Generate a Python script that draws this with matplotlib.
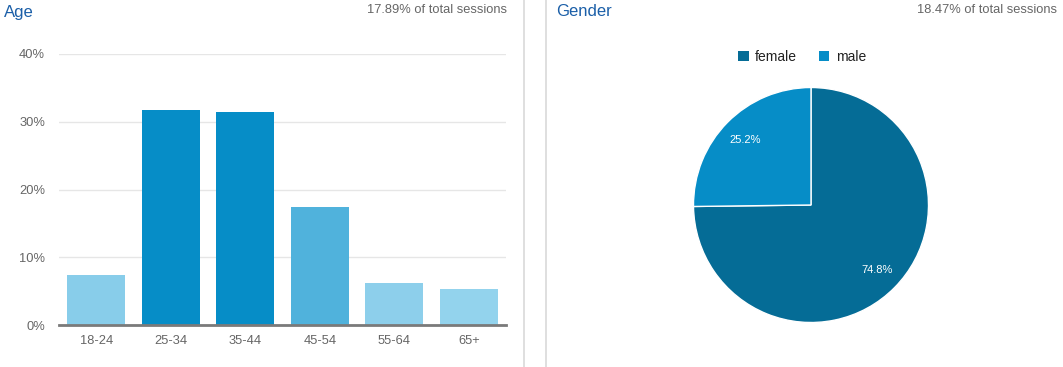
import matplotlib
matplotlib.use('Agg')
import matplotlib.pyplot as plt
from matplotlib.lines import Line2D
from matplotlib.patches import Patch

plt.rcParams['font.family'] = ['Liberation Sans', 'DejaVu Sans']

# age data
age_groups = ['18-24', '25-34', '35-44', '45-54', '55-64', '65+']
age_pct = [7.4, 31.7, 31.4, 17.4, 6.2, 5.3]
age_colors = ['#88cdea', '#068dc7', '#068dc7', '#50b2dc', '#8dcfeb', '#93d3ed']
yticks = [0, 10, 20, 30, 40]

# gender data
genders = ['female', 'male']
gender_pct = [74.8, 25.2]
gender_colors = ['#056c96', '#068dc7']

W, H = 1063, 367
fig = plt.figure(figsize=(W / 100, H / 100), dpi=100)
fig.patch.set_facecolor('white')

title_col = '#1b5fa8'
grey = '#666666'

# --- age bar chart
ax = fig.add_axes([59 / W, 1 - 325 / H, 447 / W, 271 / H])
x = list(range(len(age_groups)))
ax.bar(x, age_pct, width=0.78, color=age_colors, zorder=3)
ax.set_xlim(-0.5, len(age_groups) - 0.5)
ax.set_ylim(0, 40)
ax.set_yticks(yticks)
ax.set_yticklabels([f'{t}%' for t in yticks])
ax.set_xticks(x)
ax.set_xticklabels(age_groups)
ax.tick_params(length=0, labelsize=9.3, colors=grey)
ax.tick_params(axis='y', pad=10)
ax.tick_params(axis='x', pad=7)
ax.grid(axis='y', color='#e6e6e6', lw=1, zorder=0)
for s in ['top', 'right', 'left']:
    ax.spines[s].set_visible(False)
ax.spines['bottom'].set_color('#7a7a7a')
ax.spines['bottom'].set_linewidth(2)
ax.spines['bottom'].set_zorder(4)

fig.text(4 / W, 1 - 12 / H, 'Age', fontsize=12, color=title_col, va='center', ha='left')
fig.text(507 / W, 1 - 10 / H, '17.89% of total sessions', fontsize=9.3, color=grey,
         va='center', ha='right')

# --- separators
for xs in [524, 546]:
    fig.add_artist(Line2D([xs / W, xs / W], [0, 1], color='#d9d9d9', lw=1.2,
                          transform=fig.transFigure))

# --- gender pie
r = 117.5
cx, cy = 811, 205
pax = fig.add_axes([(cx - r) / W, 1 - (cy + r) / H, 2 * r / W, 2 * r / H])
wedges, _, autotexts = pax.pie(gender_pct, colors=gender_colors, startangle=90,
                               counterclock=False, autopct='%1.1f%%', pctdistance=0.79,
                               wedgeprops=dict(edgecolor='white', linewidth=1),
                               textprops=dict(color='white', fontsize=8))
pax.set_aspect('auto')
pax.set_xlim(-1, 1)
pax.set_ylim(-1, 1)

fig.text(556 / W, 1 - 12 / H, 'Gender', fontsize=12, color=title_col, va='center', ha='left')
fig.text(1057 / W, 1 - 10 / H, '18.47% of total sessions', fontsize=9.3, color=grey,
         va='center', ha='right')

handles = [Patch(facecolor=c, edgecolor='none') for c in gender_colors]
fig.legend(handles, genders, loc='center', bbox_to_anchor=(802 / W, 1 - 57 / H), ncol=2,
           frameon=False, fontsize=10, handlelength=0.75, handleheight=0.75,
           handletextpad=0.45, columnspacing=1.6, labelcolor='#222222')

fig.savefig('out.png', dpi=100, facecolor='white')
